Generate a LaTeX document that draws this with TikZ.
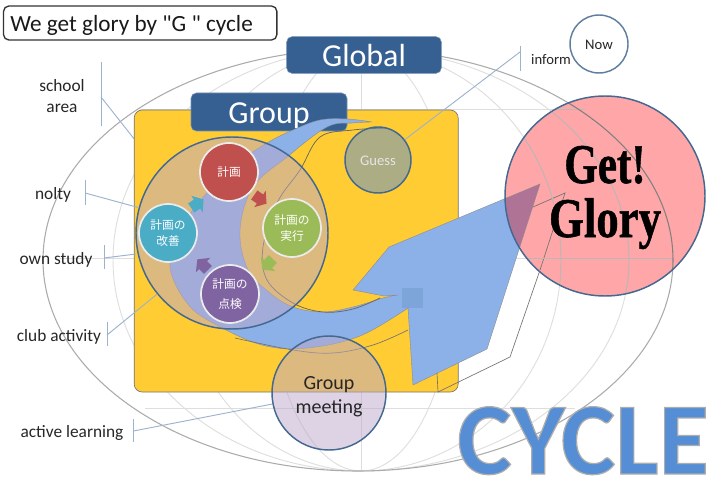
\documentclass[tikz,border=0pt]{standalone}
\usepackage{fontspec}
\usepackage{graphicx}
\setmainfont{Carlito}
\newfontfamily\tifont[Ligatures=ResetAll]{Carlito}
\newfontfamily\cjk{Noto Sans CJK JP}
\newfontfamily\glfont[FakeBold=1]{Liberation Serif}
\newfontfamily\cyfont[FakeBold=1.2]{Carlito}
\usetikzlibrary{calc}
\definecolor{orangeF}{HTML}{FFCC33}
\definecolor{blueF}{HTML}{8CB0E8}
\definecolor{pillF}{HTML}{366092}
\definecolor{ringC}{HTML}{44688F}
\definecolor{leadC}{HTML}{9DB2CE}
\definecolor{pinkF}{HTML}{FFA6A8}
\definecolor{labelC}{HTML}{262626}
\newcommand{\fs}[2]{\fontsize{#1}{#2}\selectfont}
\newcommand{\dropby}[2]{\raisebox{-#1}[0pt][0pt]{#2}}
\newcommand{\smallarrow}{(-7,-5.5)--(0,-5.5)--(0,-10)--(8,0)--(0,10)--(0,5.5)--(-7,5.5)--cycle}
\newcommand{\arrowshape}{plot[smooth,tension=.6] coordinates {(372,122)(347,119)(320,120)(293,130)(267,143)(235,165)(205,195)(180,230)(170,267)(187,303)(213,323)(262,345)(307,348)(360,336)(408,308)} -- (413,385) -- (487,349) -- (540,184) -- (389,247) -- (353,290) -- (384,296) -- plot[smooth,tension=.6] coordinates {(398,295)(383,298)(353,307)(323,312)(293,307)(270,293)(248,270)(240,230)(253,187)(287,157)(327,127)(353,123)(372,122)} -- cycle}
\newcommand{\gridlines}[2]{%
  \begin{scope}[draw=#1,line width=.7pt]
    \draw (361,49) -- (361,471);
    \draw (140,109) -- (585,109);
    \draw (60,258) -- (672,258);
    \draw (145,408) -- (575,408);
    \begin{scope}
      \clip (361,0) rectangle (720,480);
      \draw (361,260) ellipse [x radius=95,y radius=211];
      \draw (361,260) ellipse [x radius=200,y radius=211];
      \draw (361,260) ellipse [x radius=268,y radius=211];
    \end{scope}
    \begin{scope}
      \clip (0,0) rectangle (361,480);
      \draw (361,260) ellipse [x radius=95,y radius=211];
      \draw (361,260) ellipse [x radius=183,y radius=211];
      \draw (361,260) ellipse [x radius=248,y radius=211];
    \end{scope}
  \end{scope}
  \draw[draw=#2,line width=.8pt] (358,260) ellipse [x radius=315,y radius=211];
}
\tikzset{
  lab/.style={text=labelC,align=center,font=\fs{13}{16}},
  lead/.style={draw=leadC,line width=.7pt},
  pill/.style={fill=pillF,draw=pillF!70!white,line width=.4pt,rounded corners=4pt,text=white,font=\fs{24}{28},text height=17pt,text depth=0pt},
  inner/.style={circle,draw=white!92!black,line width=1.3pt,text=white,align=center,font=\cjk\fs{8.8}{11.5},inner sep=0pt},
  ring/.style={circle,draw=ringC,line width=1.1pt,inner sep=0pt}
}
\begin{document}
\begin{tikzpicture}[x=.75pt,y=-.75pt]
\useasboundingbox (0,0) rectangle (709,477);
\gridlines{black!13}{black!33}

% leader coordinates
\coordinate (sa) at (101,62); \coordinate (sb) at (101,126); \coordinate (sm) at (101,97); \coordinate (st) at (135,140);
\coordinate (na) at (85,180); \coordinate (nb) at (85,205); \coordinate (nm) at (85,193);
\coordinate (oa) at (104,245); \coordinate (ob) at (104,269); \coordinate (om) at (104,258);
\coordinate (ca) at (107,322); \coordinate (cb) at (107,346); \coordinate (cm) at (107,335);
\coordinate (aa) at (133.5,419); \coordinate (ab) at (133.5,442); \coordinate (am) at (133.5,431);
\coordinate (ia) at (520,46); \coordinate (ib) at (520,71); \coordinate (im) at (520,52);
\draw[lead] (sa) -- (sb) (na) -- (nb) (oa) -- (ob) (ca) -- (cb) (aa) -- (ab) (ia) -- (ib);
\draw[lead] (sm) -- (st);

% yellow area
\node[name=area,fill=orangeF,draw=black!55,line width=.5pt,rounded corners=6pt,minimum width=243pt,minimum height=211.5pt,inner sep=0pt] at (296.2,251) {};

% pills
\node[pill,name=global,minimum width=116pt,minimum height=27.5pt,inner sep=0pt] at (364,55) {Global};
\node[pill,name=group,minimum width=117pt,minimum height=28.5pt,inner sep=0pt] at (269,112) {Group};

% big arrow
\path[fill=blueF,draw=black!45,line width=.3pt] \arrowshape;
\fill[fill={rgb,255:red,125;green,165;blue,218}] (402,288) rectangle (423,308);

% shadow outline of the arrow
\draw[black!60,line width=.55pt] plot[smooth,tension=.6] coordinates {(387,128)(353,130)(320,137)(300,170)(277,203)(263,247)(267,280)(293,303)(323,312)(353,309)(380,298)};
\draw[black!55,line width=.5pt] plot[smooth,tension=.6] coordinates {(235,338)(293,350)(333,353)(373,345)(408,330)};
\draw[black!55,line width=.5pt] (437,373) -- (438,392) -- (510,357) -- (540,270) -- (565,193) -- (533,207);

% main circle
\node[ring,name=pdca,minimum size=144pt,fill={rgb,255:red,187;green,167;blue,203},fill opacity=.5] at (232,233) {};

% small cycle arrows
\fill[fill={rgb,255:red,192;green,80;blue,77},shift={(260,199)},rotate=-35] \smallarrow;
\fill[fill={rgb,255:red,155;green,187;blue,89},shift={(268,264)},rotate=-135] \smallarrow;
\fill[fill={rgb,255:red,128;green,100;blue,162},shift={(203,265)},rotate=135] \smallarrow;
\fill[fill={rgb,255:red,75;green,172;blue,198},shift={(197,204)},rotate=35] \smallarrow;

% inner circles
\node[inner,name=plan,fill={rgb,255:red,192;green,80;blue,77},minimum size=43.5pt] at (229,172) {計画};
\node[inner,name=doit,fill={rgb,255:red,155;green,187;blue,89},minimum size=43.5pt] at (292,228) {計画の\\実行};
\node[inner,name=check,fill={rgb,255:red,128;green,100;blue,162},minimum size=43.5pt,font=\cjk\fs{8.8}{15}] at (230,294) {計画の\\点検};
\node[inner,name=act,fill={rgb,255:red,75;green,172;blue,198},minimum size=43.5pt] at (168,233) {計画の\\改善};

% guess
\node[ring,name=guess,minimum size=49.5pt,fill={rgb,255:red,91;green,144;blue,215},fill opacity=.5,text opacity=1,text=white!90!black,font=\fs{11}{13}] at (378,160) {\dropby{3.8pt}{Guess}};

% group meeting
\node[ring,name=meet,minimum size=85.5pt,fill={rgb,255:red,187;green,167;blue,203},fill opacity=.5,text opacity=1,text=labelC,align=center,font=\fs{15}{18}] at (329,393) {\dropby{6pt}{Group}\\\dropby{6pt}{meeting}};

% get glory
\fill[pinkF] (605,196) circle [radius=75pt];
\begin{scope}
  \clip (605,196) circle [radius=75pt];
  \path[fill={rgb,255:red,175;green,115;blue,150},draw=black!45,line width=.3pt] \arrowshape;
  \draw[black!55,line width=.5pt] (540,270) -- (565,193) -- (533,207);
  \gridlines{black!28}{black!50}
\end{scope}
\node[ring,name=glory,minimum size=150pt,align=center,text=black,font=\glfont\bfseries\fs{42}{40.5}] at (605,196) {\dropby{10.5pt}{\scalebox{.77}[1]{Get!}}\\\dropby{10.5pt}{\scalebox{.8}[1]{Glory}}};

% now
\node[ring,name=now,draw=ringC!85!white,fill=white,minimum size=43.5pt,text=labelC,font=\fs{11}{13}] at (599,44) {\dropby{4.3pt}{Now}};

% remaining leaders, drawn to their nodes
\draw[lead] (nm) -- (pdca);
\draw[lead] (om) -- (136,254);
\draw[lead] (cm) -- (pdca);
\draw[lead] (am) -- (meet);
\draw[lead] (im) -- (guess);

% labels
\node[lab,name=lschool] at (62,96) {school\\area};
\node[lab,name=lnolty] at (53,195) {nolty};
\node[lab,name=lown] at (56,260) {own study};
\node[lab,name=lclub] at (59,337) {club activity};
\node[lab,name=lactive] at (72,433) {active learning};
\node[lab,name=linform,font=\fs{11}{13}] at (551,60) {inform};

% title
\node[name=title,draw=black!80,fill=white,line width=1pt,rounded corners=4pt,minimum width=205pt,minimum height=25.5pt,inner sep=0pt,text=black!90,font=\tifont\fs{17.4}{20}] at (140.2,23) {\hspace*{-13pt}\dropby{6.3pt}{We get glory by "G " cycle}};

% CYCLE
\node[name=cycle,inner sep=0pt,anchor=base west,font=\cyfont\bfseries\fs{77}{80}] at (457,474) {\special{pdf:bcolor [0.333 0.557 0.835] [0.68 0.68 0.68]}CYCLE\special{pdf:ecolor}};
\end{tikzpicture}
\end{document}
